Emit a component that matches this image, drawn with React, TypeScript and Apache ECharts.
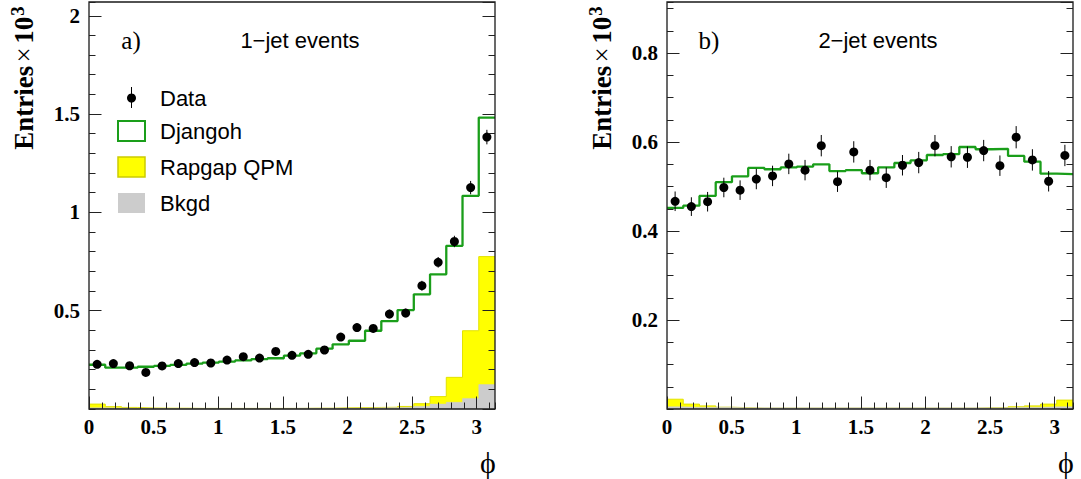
import React, { useEffect, useRef } from "react";
import * as echarts from "echarts";

// ---- data (values in units of 10^3 entries) ----
const NBINS = 25;
const xTickLabels = ["0", "0.5", "1", "1.5", "2", "2.5", "3"];

const leftData = [0.227, 0.231, 0.220, 0.186, 0.219, 0.231, 0.236, 0.234, 0.249, 0.266, 0.259, 0.293, 0.273, 0.278, 0.300, 0.366, 0.414, 0.410, 0.483, 0.488, 0.627, 0.746, 0.852, 1.126, 1.383];
const leftErr = [0.015, 0.015, 0.015, 0.014, 0.015, 0.015, 0.015, 0.015, 0.016, 0.016, 0.016, 0.017, 0.017, 0.017, 0.017, 0.019, 0.020, 0.020, 0.022, 0.022, 0.025, 0.027, 0.029, 0.034, 0.037];
const leftDjangoh = [0.225, 0.210, 0.210, 0.215, 0.219, 0.224, 0.231, 0.236, 0.241, 0.247, 0.254, 0.258, 0.271, 0.283, 0.307, 0.329, 0.347, 0.398, 0.447, 0.503, 0.583, 0.685, 0.830, 1.084, 1.482];
const leftRapgap = [0.025, 0.012, 0.008, 0.005, 0.004, 0.004, 0.003, 0.003, 0.003, 0.003, 0.003, 0.003, 0.003, 0.004, 0.004, 0.006, 0.007, 0.008, 0.009, 0.013, 0.027, 0.063, 0.161, 0.398, 0.775];
const leftBkgd = [0.006, 0.005, 0.004, 0.004, 0.003, 0.003, 0.003, 0.003, 0.003, 0.003, 0.003, 0.003, 0.004, 0.004, 0.004, 0.005, 0.005, 0.006, 0.007, 0.009, 0.014, 0.025, 0.034, 0.054, 0.124];

const rightData = [0.467, 0.455, 0.466, 0.498, 0.492, 0.517, 0.524, 0.551, 0.537, 0.592, 0.511, 0.578, 0.537, 0.520, 0.548, 0.554, 0.592, 0.567, 0.566, 0.581, 0.547, 0.611, 0.560, 0.512, 0.570];
const rightErr = [0.022, 0.021, 0.022, 0.022, 0.022, 0.023, 0.023, 0.023, 0.023, 0.024, 0.023, 0.024, 0.023, 0.023, 0.023, 0.024, 0.024, 0.024, 0.024, 0.024, 0.023, 0.025, 0.024, 0.023, 0.024];
const rightDjangoh = [0.452, 0.457, 0.479, 0.510, 0.523, 0.542, 0.539, 0.543, 0.545, 0.550, 0.535, 0.537, 0.530, 0.543, 0.553, 0.559, 0.571, 0.573, 0.589, 0.584, 0.585, 0.569, 0.556, 0.529, 0.528];
const rightRapgap = [0.022, 0.011, 0.007, 0.004, 0.003, 0.002, 0.002, 0.002, 0.002, 0.002, 0.002, 0.002, 0.002, 0.002, 0.002, 0.002, 0.002, 0.002, 0.002, 0.003, 0.003, 0.005, 0.007, 0.011, 0.020];
const rightBkgd = [0.005, 0.004, 0.004, 0.004, 0.003, 0.003, 0.003, 0.003, 0.003, 0.003, 0.003, 0.003, 0.003, 0.003, 0.003, 0.003, 0.003, 0.003, 0.003, 0.003, 0.003, 0.004, 0.004, 0.005, 0.005];

const panelTitles = ["1\u2212jet events", "2\u2212jet events"];
const panelTags = ["a)", "b)"];
const legendNames = ["Data", "Djangoh", "Rapgap QPM", "Bkgd"];
const yMax = [2.07, 0.915];
const yMajor = [0.5, 0.2];
const yMinor = [0.1, 0.05];

// ---- styling ----
const GREEN = "#1a9e1a";
const YELLOW = "#ffff00";
const GRAY = "#cccccc";
const SERIF = '"Liberation Serif", "DejaVu Serif", serif';
const SANS = '"Liberation Sans", Arial, sans-serif';

const BW = Math.PI / NBINS;
const edges = Array.from({ length: NBINS + 1 }, (_, i) => i * BW);
const centers = Array.from({ length: NBINS }, (_, i) => (i + 0.5) * BW);
const stepData = (vals: number[]) => edges.map((e, i) => [e, vals[Math.min(i, NBINS - 1)]]);

const PANEL_LEFT = [89, 667];
const GRID_TOP = 2;
const GRID_W = 406;
const GRID_H = 407;

export default function App() {
  const ref = useRef<HTMLDivElement>(null);

  useEffect(() => {
    if (!ref.current) return;
    const chart = echarts.init(ref.current, undefined, { renderer: "svg" });

    const grids: any[] = [];
    const xAxes: any[] = [];
    const yAxes: any[] = [];
    const series: any[] = [];
    const graphics: any[] = [];

    const panels = [
      { data: leftData, err: leftErr, dj: leftDjangoh, rq: leftRapgap, bk: leftBkgd },
      { data: rightData, err: rightErr, dj: rightDjangoh, rq: rightRapgap, bk: rightBkgd },
    ];

    panels.forEach((p, pi) => {
      const left = PANEL_LEFT[pi];
      for (let k = 0; k < 2; k++) {
        const g = pi * 2 + k;
        const major = k === 0;
        grids.push({
          left,
          top: GRID_TOP,
          width: GRID_W,
          height: GRID_H,
          show: !major,
          borderColor: "#1a1a1a",
          borderWidth: 1.3,
          backgroundColor: "transparent",
          z: major ? 0 : 8,
        });
        xAxes.push({
          type: "value",
          gridIndex: g,
          min: 0,
          max: Math.PI,
          interval: major ? 0.5 : 0.1,
          position: "bottom",
          z: 9,
          axisLine: { show: false },
          splitLine: { show: false },
          axisTick: { show: true, inside: true, length: major ? 12.5 : 6.5, lineStyle: { color: "#222", width: 1 } },
          axisLabel: {
            show: major,
            showMaxLabel: false,
            margin: 7,
            fontFamily: SERIF,
            fontWeight: "bold",
            fontSize: 21,
            color: "#000",
            formatter: (v: number) => {
              const idx = Math.round(v / 0.5);
              return xTickLabels[idx] ?? "";
            },
          },
        });
        ["left", "right"].forEach((pos) => {
          yAxes.push({
            type: "value",
            gridIndex: g,
            position: pos,
            min: 0,
            max: yMax[pi],
            interval: major ? yMajor[pi] : yMinor[pi],
            z: 9,
            axisLine: { show: false },
            splitLine: { show: false },
            axisTick: { show: true, inside: true, length: major ? 12.5 : 6.5, lineStyle: { color: "#222", width: 1 } },
            axisLabel: {
              show: major && pos === "left",
              showMinLabel: false,
              showMaxLabel: false,
              margin: 9,
              fontFamily: SERIF,
              fontWeight: "bold",
              fontSize: 21,
              color: "#000",
            },
          });
        });
      }

      const xi = pi * 2;
      const yi = pi * 4;
      series.push({
        name: legendNames[2],
        type: "line",
        xAxisIndex: xi,
        yAxisIndex: yi,
        step: "end",
        symbol: "none",
        silent: true,
        data: stepData(p.rq),
        lineStyle: { color: "#e2e200", width: 1 },
        areaStyle: { color: YELLOW, opacity: 1 },
        z: 2,
      });
      series.push({
        name: legendNames[3],
        type: "line",
        xAxisIndex: xi,
        yAxisIndex: yi,
        step: "end",
        symbol: "none",
        silent: true,
        data: stepData(p.bk),
        lineStyle: { color: GRAY, width: 0.5 },
        areaStyle: { color: GRAY, opacity: 1 },
        z: 3,
      });
      series.push({
        name: legendNames[1],
        type: "line",
        xAxisIndex: xi,
        yAxisIndex: yi,
        step: "end",
        symbol: "none",
        silent: true,
        data: stepData(p.dj),
        lineStyle: { color: GREEN, width: 2.3 },
        z: 4,
      });
      series.push({
        type: "custom",
        xAxisIndex: xi,
        yAxisIndex: yi,
        silent: true,
        data: centers.map((c, i) => [c, p.data[i], p.err[i]]),
        encode: { x: 0, y: 1 },
        renderItem: (_params: any, api: any) => {
          const x = api.value(0);
          const y = api.value(1);
          const e = api.value(2);
          const a = api.coord([x, y + e]);
          const b = api.coord([x, y - e]);
          return {
            type: "line",
            shape: { x1: a[0], y1: a[1], x2: b[0], y2: b[1] },
            style: { stroke: "#000", lineWidth: 1 },
          };
        },
        z: 5,
      });
      series.push({
        name: legendNames[0],
        type: "scatter",
        xAxisIndex: xi,
        yAxisIndex: yi,
        silent: true,
        symbol: "circle",
        symbolSize: 9,
        data: centers.map((c, i) => [c, p.data[i]]),
        itemStyle: { color: "#000", opacity: 1 },
        z: 6,
      });

      const off = left - PANEL_LEFT[0];
      graphics.push({
        type: "text",
        x: 23.5 + off,
        y: 78,
        rotation: Math.PI / 2,
        style: {
          text: "{b|Entries} {n|\u00d7} {b|10}{s|3}",
          textAlign: "center",
          textVerticalAlign: "middle",
          fill: "#000",
          rich: {
            b: { fontFamily: SERIF, fontWeight: "bold", fontSize: 27, fill: "#000" },
            n: { fontFamily: SERIF, fontWeight: "normal", fontSize: 27, fill: "#000" },
            s: { fontFamily: SERIF, fontWeight: "bold", fontSize: 19, fill: "#000", padding: [0, 0, 12, 1] },
          },
        },
      });
      graphics.push({
        type: "text",
        x: 131 + off,
        y: 40,
        style: { text: panelTags[pi], font: `25px ${SERIF}`, textAlign: "center", textVerticalAlign: "middle", fill: "#000" },
      });
      graphics.push({
        type: "text",
        x: 300 + off,
        y: 40,
        style: { text: panelTitles[pi], font: `22px ${SANS}`, textAlign: "center", textVerticalAlign: "middle", fill: "#000" },
      });
      graphics.push({
        type: "text",
        x: 488 + off,
        y: 462,
        style: { text: "\u03d5", font: `30px ${SERIF}`, textAlign: "center", textVerticalAlign: "middle", fill: "#000" },
      });
    });

    // legend (panel a)
    const lx = 118;
    const lw = 27;
    const lh = 20;
    const rowsY = [98, 131, 167, 203];
    graphics.push({ type: "line", shape: { x1: lx + lw / 2, y1: 87, x2: lx + lw / 2, y2: 108 }, style: { stroke: "#000", lineWidth: 1 } });
    graphics.push({ type: "circle", shape: { cx: lx + lw / 2, cy: rowsY[0], r: 4.5 }, style: { fill: "#000" } });
    graphics.push({ type: "rect", shape: { x: lx, y: rowsY[1] - lh / 2, width: lw, height: lh }, style: { fill: "#fff", stroke: GREEN, lineWidth: 2 } });
    graphics.push({ type: "rect", shape: { x: lx, y: rowsY[2] - lh / 2, width: lw, height: lh }, style: { fill: YELLOW, stroke: "#cccc00", lineWidth: 1.5 } });
    graphics.push({ type: "rect", shape: { x: lx, y: rowsY[3] - lh / 2, width: lw, height: lh }, style: { fill: GRAY } });
    legendNames.forEach((n, i) => {
      graphics.push({
        type: "text",
        x: 160,
        y: rowsY[i],
        style: { text: n, font: `22px ${SANS}`, textAlign: "left", textVerticalAlign: "middle", fill: "#000" },
      });
    });

    chart.setOption({
      animation: false,
      backgroundColor: "#fff",
      grid: grids,
      xAxis: xAxes,
      yAxis: yAxes,
      series,
      graphic: graphics,
    });

    return () => chart.dispose();
  }, []);

  return <div ref={ref} style={{ position: "fixed", left: 0, top: 0, width: 1081, height: 479 }} />;
}
